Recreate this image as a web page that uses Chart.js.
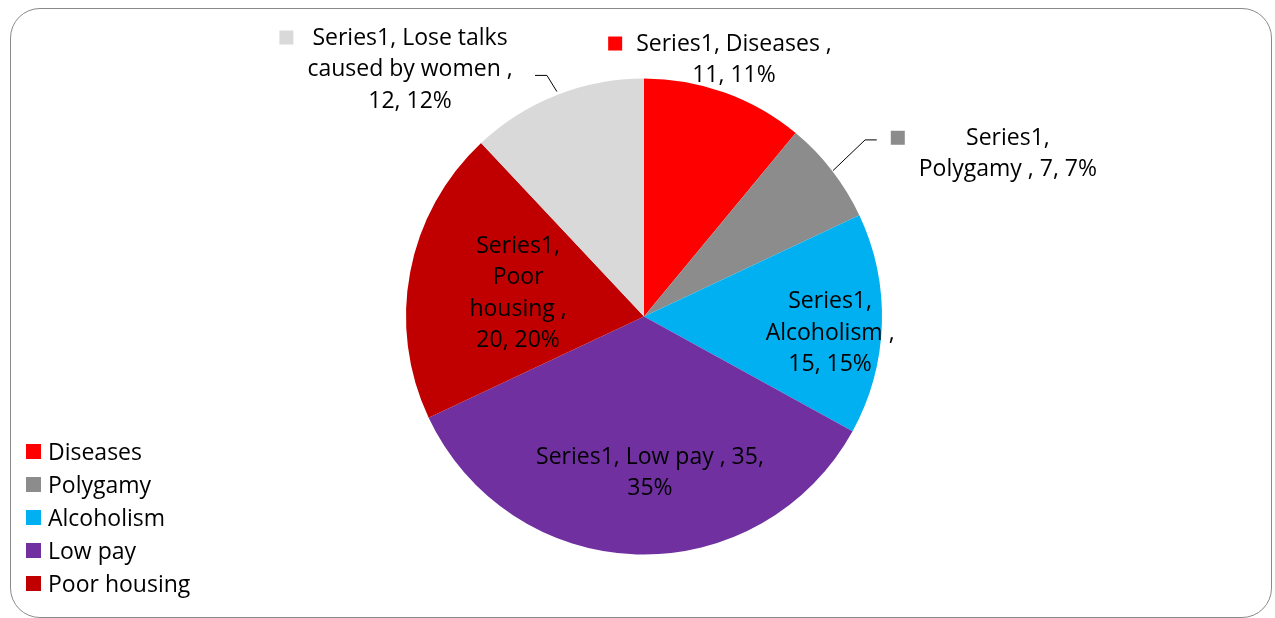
<!DOCTYPE html>
<html>
<head>
<meta charset="utf-8">
<script src="https://cdn.jsdelivr.net/npm/chart.js@4"></script>
<style>
  html, body { margin: 0; padding: 0; background: #fff; }
  #wrap { position: relative; width: 1275px; height: 618px; overflow: hidden; }
  #frame {
    position: absolute; left: 10px; top: 8px; width: 1262px; height: 610px;
    border: 1.5px solid #8a8a8a; border-radius: 30px; box-sizing: border-box;
  }
  canvas { position: absolute; left: 0; top: 0; }
</style>
</head>
<body>
<div id="wrap">
  <div id="frame"></div>
  <canvas id="chart" width="1275" height="618"></canvas>
</div>
<script>
// data
const seriesName = 'Series1';
const categories = ['Diseases', 'Polygamy', 'Alcoholism', 'Low pay', 'Poor housing', 'Lose talks caused by women'];
const values = [11, 7, 15, 35, 20, 12];
const sliceColors = ['#ff0000', '#8c8c8c', '#00b0f0', '#7030a0', '#c00000', '#d9d9d9'];
const legendCount = 5; // the last entry is cut off by the frame in the original

// label layout: centre offset in units of radius, words per line, leader line, key square
const labelLayout = [
  { fx: 0.378, fy: -1.085, lines: [3, 2], key: true },
  { fx: 1.529, fy: -0.689, lines: [1, 4], key: true, leader: [[0.978, -0.742], [0.929, -0.742], [0.794, -0.613]] },
  { fx: 0.782, fy: 0.063, lines: [1, 2, 2] },
  { fx: 0.025, fy: 0.651, lines: [5, 1] },
  { fx: -0.529, fy: -0.103, lines: [1, 1, 2, 2] },
  { fx: -0.983, fy: -1.044, lines: [3, 4, 2], key: true, leader: [[-0.458, -1.013], [-0.408, -1.013], [-0.366, -0.945]] }
];

const FONT = '23px "Open Sans", Lato, sans-serif';
const LINE_H = 31.5;
const TEXT_DY = 1.5; // Open Sans sits a bit high at 'middle'

const total = values.reduce((a, b) => a + b, 0);

const labelPlugin = {
  id: 'sliceLabels',
  afterDatasetsDraw(chart) {
    const ctx = chart.ctx;
    const meta = chart.getDatasetMeta(0);
    const cx = meta.data[0].x, cy = meta.data[0].y, r = meta.data[0].outerRadius;
    ctx.save();
    ctx.font = FONT;
    ctx.fillStyle = '#000';
    ctx.textAlign = 'center';
    ctx.textBaseline = 'middle';
    values.forEach((v, i) => {
      const lay = labelLayout[i];
      const pct = Math.round(v / total * 100);
      const words = `${seriesName}, ${categories[i]} , ${v}, ${pct}%`.split(' ');
      const lines = [];
      let k = 0;
      lay.lines.forEach(n => { lines.push(words.slice(k, k + n).join(' ')); k += n; });
      const x = cx + lay.fx * r, y = cy + lay.fy * r;
      const y0 = y - (lines.length - 1) * LINE_H / 2;
      lines.forEach((t, j) => ctx.fillText(t, x, y0 + j * LINE_H + TEXT_DY));
      if (lay.key) {
        const w = Math.max(...lines.map(t => ctx.measureText(t).width));
        ctx.fillStyle = sliceColors[i];
        ctx.fillRect(x - w / 2 - 28, y0 - 6, 14, 14);
        ctx.fillStyle = '#000';
      }
      if (lay.leader) {
        ctx.beginPath();
        lay.leader.forEach((p, j) => {
          const px = cx + p[0] * r, py = cy + p[1] * r;
          if (j === 0) ctx.moveTo(px, py); else ctx.lineTo(px, py);
        });
        ctx.strokeStyle = '#000';
        ctx.lineWidth = 1;
        ctx.stroke();
      }
    });
    // legend, bottom left
    ctx.textAlign = 'left';
    for (let i = 0; i < legendCount; i++) {
      const y = 451.5 + i * 33;
      ctx.fillStyle = sliceColors[i];
      ctx.fillRect(26, y - 7.5, 15, 15);
      ctx.fillStyle = '#000';
      ctx.fillText(categories[i], 48, y + TEXT_DY);
    }
    ctx.restore();
  }
};

new Chart(document.getElementById('chart'), {
  type: 'pie',
  data: {
    labels: categories,
    datasets: [{
      label: seriesName,
      data: values,
      backgroundColor: sliceColors,
      borderWidth: 0
    }]
  },
  options: {
    responsive: false,
    animation: false,
    layout: { padding: { left: 406, right: 393, top: 78, bottom: 63 } },
    plugins: {
      legend: { display: false },
      tooltip: { enabled: false }
    }
  },
  plugins: [labelPlugin]
});
</script>
</body>
</html>
